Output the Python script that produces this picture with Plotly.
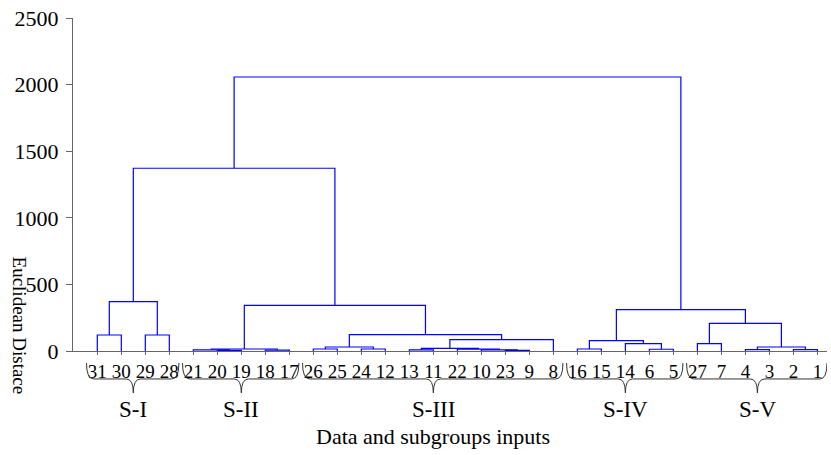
import plotly.graph_objects as go

# ---------------- data ----------------
leaf_order = [31, 30, 29, 28, 21, 20, 19, 18, 17, 26, 25, 24, 12, 13, 11, 22,
              10, 23, 9, 8, 16, 15, 14, 6, 5, 27, 7, 4, 3, 2, 1]

merge_names = ["A", "B", "SI", "C", "D", "E", "SII", "F", "G", "H", "I", "J", "K",
               "L", "M", "N", "SIII", "O", "P", "Q", "R", "S", "SIV", "T", "U",
               "V", "W", "SV", "X", "ROOT"]
merge_left = [31, 29, "A", 20, 21, 18, "D", 26, 24, "F", 13, 23, 10,
              22, "I", "M", "H", "SII", "SI", 16, 6, 14, "Q", 27, 4,
              2, "U", "T", "SIV", "P"]
merge_right = [30, 28, "B", 19, "C", 17, "E", 25, 12, "G", 11, 9, "J",
               "K", "L", 8, "N", "SIII", "O", 15, 5, "R", "S", 7, 3,
               1, "V", "W", "SV", "X"]
merge_height = [120, 120, 370, 4, 8, 6, 15, 15, 15, 30, 8, 4, 8,
                14, 20, 85, 123, 343, 1372, 15, 13, 55, 78, 55, 10,
                10, 30, 208, 310, 2057]

group_names = ["S-I", "S-II", "S-III", "S-IV", "S-V"]
group_first = [31, 21, 26, 16, 27]
group_last = [28, 17, 8, 5, 1]

y_ticks = [0, 500, 1000, 1500, 2000, 2500]

# ---------------- dendrogram geometry ----------------
pos = {lab: i for i, lab in enumerate(leaf_order)}
hgt = {lab: 0 for lab in leaf_order}
xs, ys = [], []
for name, a, b, h in zip(merge_names, merge_left, merge_right, merge_height):
    xa, xb = pos[a], pos[b]
    xs += [xa, xa, xb, xb, None]
    ys += [hgt[a], h, h, hgt[b], None]
    pos[name] = (xa + xb) / 2
    hgt[name] = h

fig = go.Figure()
fig.add_trace(go.Scatter(x=xs, y=ys, mode="lines",
                         line=dict(color="#0000FF", width=1.2),
                         hoverinfo="skip", showlegend=False))

font = "Liberation Serif, Times New Roman, serif"
axis_col = "#666666"

PLOT_H = 333.5

def py(pix_below_axis):
    return -pix_below_axis / PLOT_H

# ---------------- braces and group labels ----------------
yt, yh, yb = py(12), py(28), py(42)
shapes, annotations = [], []
for gname, f, l in zip(group_names, group_first, group_last):
    i0, i1 = leaf_order.index(f), leaf_order.index(l)
    x0 = i0 - 0.45
    x1 = i1 + 0.4
    xc = (i0 + i1) / 2
    r = 0.3
    path = (f"M {x0},{yt} Q {x0},{yh} {x0 + r},{yh} L {xc - r},{yh} "
            f"Q {xc},{yh} {xc},{yb} Q {xc},{yh} {xc + r},{yh} "
            f"L {x1 - r},{yh} Q {x1},{yh} {x1},{yt}")
    shapes.append(dict(type="path", path=path, xref="x", yref="paper",
                       line=dict(color="#333333", width=1)))
    annotations.append(dict(x=xc, y=py(59), xref="x", yref="paper",
                            text=gname, showarrow=False,
                            font=dict(family=font, size=23, color="black"),
                            xanchor="center", yanchor="middle"))

annotations.append(dict(x=0.5 * (leaf_order.index(group_first[2]) + leaf_order.index(group_last[2])),
                        y=py(85.5), xref="x", yref="paper",
                        text="Data and subgroups inputs", showarrow=False,
                        font=dict(family=font, size=22, color="black"),
                        xanchor="center", yanchor="middle"))
annotations.append(dict(x=0, y=25.5 / PLOT_H, xref="paper", yref="paper",
                        xshift=-54, text="Euclidean Distace", showarrow=False,
                        textangle=90,
                        font=dict(family=font, size=19, color="black"),
                        xanchor="center", yanchor="middle"))

fig.update_layout(
    width=831, height=455,
    margin=dict(l=73, r=4, t=18, b=103.5, autoexpand=False),
    paper_bgcolor="white", plot_bgcolor="white",
    shapes=shapes, annotations=annotations,
    font=dict(family=font, size=17, color="black"),
    xaxis=dict(range=[-1.0125, 30.4], tickmode="array",
               tickvals=list(range(len(leaf_order))),
               ticktext=[str(v) for v in leaf_order],
               showline=True, linecolor=axis_col, linewidth=1,
               ticks="outside", ticklen=3, tickcolor=axis_col,
               showgrid=False, zeroline=False, automargin=False,
               tickfont=dict(family=font, size=19, color="black")),
    yaxis=dict(range=[0, 2500], tickmode="array", tickvals=y_ticks,
               ticktext=[str(v) for v in y_ticks],
               showline=True, linecolor=axis_col, linewidth=1,
               ticks="outside", ticklen=6, tickcolor=axis_col,
               showgrid=False, zeroline=False,
               ticklabelstandoff=3, automargin=False,
               tickfont=dict(family=font, size=22, color="black")),
)

fig.write_html("out.html",
               config={"displayModeBar": False},
               post_script="document.body.style.margin='0px';document.body.style.overflow='hidden';")
